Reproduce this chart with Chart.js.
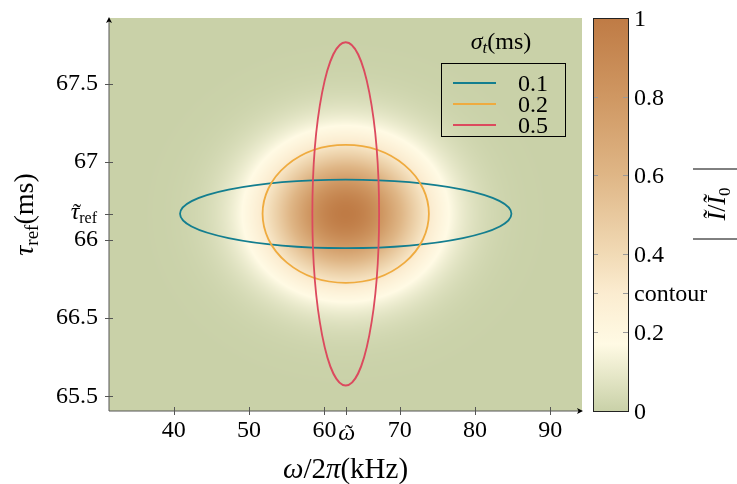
<!DOCTYPE html>
<html>
<head>
<meta charset="utf-8">
<script src="https://cdn.jsdelivr.net/npm/chart.js@4/dist/chart.umd.min.js"></script>
<style>
html, body { margin: 0; padding: 0; background: #fff; }
</style>
</head>
<body>
<canvas id="chart" width="737" height="484"></canvas>
<script>
// axes (x: kHz, y: ms)
const xRange = [31.4, 94.2];
const yRange = [65.406, 67.92];
const xTicks = [40, 50, 60, 70, 80, 90];
const yTicks = [65.5, 66, 66.5, 67, 67.5];
const yTickLabels = ['65.5', '66.5', '66', '67', '67.5'];
const omegaRef = 62.83;
const tauRef = 66.667;

// contour ellipses, one per sigma_t
const sigmaLabels = ['0.1', '0.2', '0.5'];
const halfWidths = [22.0, 11.04, 4.43];
const halfHeights = [0.219, 0.441, 1.098];
const lineColors = ['#137e8f', '#efab3f', '#dc4a5e'];

// intensity blob
const blobCenter = [62.83, 66.667];
const blobSigma = [7.3, 0.30];

// colour bar
const cbTicks = [0, 0.2, 0.4, 0.6, 0.8, 1];
const cbTickLabels = ['0', '0.2', '0.4', '0.6', '0.8', '1'];
const contourLevel = 0.3;
const cmapStops = [0, 0.17, 0.3, 0.4, 0.6, 0.8, 1];
const cmapColors = ['#c9d1a8', '#fffae4', '#fbecd0', '#f1dab5', '#dfb686', '#cf9762', '#bf7b45'];

const FONT = '"Liberation Serif", serif';
const FS = 24;

function hex(c) {
    return [1, 3, 5].map(i => parseInt(c.substr(i, 2), 16));
}
const cmapRgb = cmapColors.map(hex);

function cmap(v) {
    v = Math.max(0, Math.min(1, v));
    for (let i = 1; i < cmapStops.length; i++) {
        if (v <= cmapStops[i]) {
            const t = (v - cmapStops[i - 1]) / (cmapStops[i] - cmapStops[i - 1]);
            const a = cmapRgb[i - 1], b = cmapRgb[i];
            return [0, 1, 2].map(k => a[k] + (b[k] - a[k]) * t);
        }
    }
    return cmapRgb[cmapRgb.length - 1];
}

// draw a row of text pieces: [text, size, italic, dy, tilde]
function rich(ctx, parts, x, y, align) {
    const f = p => (p[2] ? 'italic ' : '') + p[1] + 'px ' + FONT;
    let w = 0;
    parts.forEach(p => { ctx.font = f(p); w += ctx.measureText(p[0]).width; });
    let cx = align === 'center' ? x - w / 2 : (align === 'right' ? x - w : x);
    ctx.textAlign = 'left';
    ctx.textBaseline = 'alphabetic';
    parts.forEach(p => {
        ctx.font = f(p);
        const pw = ctx.measureText(p[0]).width;
        ctx.fillText(p[0], cx, y + (p[3] || 0));
        if (p[4]) {
            // tilde accent over the glyph
            ctx.font = p[1] + 'px ' + FONT;
            ctx.textAlign = 'center';
            ctx.fillText('˜', cx + pw / 2 + 2, y + 1);
            ctx.textAlign = 'left';
        }
        cx += pw;
    });
}

function arrow(ctx, x, y, dir) {
    ctx.save();
    ctx.translate(x, y);
    ctx.rotate(dir);
    ctx.beginPath();
    ctx.moveTo(0, 0);
    ctx.lineTo(-6, -3);
    ctx.lineTo(-4.5, 0);
    ctx.lineTo(-6, 3);
    ctx.closePath();
    ctx.fillStyle = '#000';
    ctx.fill();
    ctx.restore();
}

const heatmap = {
    id: 'heatmap',
    beforeDatasetsDraw(chart) {
        const ctx = chart.ctx;
        const xs = chart.scales.x, ys = chart.scales.y;
        const { left, top, right, bottom } = chart.chartArea;
        const w = Math.round(right - left), h = Math.round(bottom - top);
        const off = document.createElement('canvas');
        off.width = w; off.height = h;
        const octx = off.getContext('2d');
        const img = octx.createImageData(w, h);
        for (let j = 0; j < h; j++) {
            const dy = (ys.getValueForPixel(top + j + 0.5) - blobCenter[1]) / blobSigma[1];
            for (let i = 0; i < w; i++) {
                const dx = (xs.getValueForPixel(left + i + 0.5) - blobCenter[0]) / blobSigma[0];
                const c = cmap(Math.exp(-(dx * dx + dy * dy) / 2));
                const k = (j * w + i) * 4;
                img.data[k] = c[0]; img.data[k + 1] = c[1]; img.data[k + 2] = c[2]; img.data[k + 3] = 255;
            }
        }
        octx.putImageData(img, 0, 0);
        ctx.drawImage(off, left, top);
    },
    afterDatasetsDraw(chart) {
        const ctx = chart.ctx;
        const xs = chart.scales.x, ys = chart.scales.y;
        const { left, top, right, bottom } = chart.chartArea;

        // ellipses
        const cx = xs.getPixelForValue(omegaRef), cy = ys.getPixelForValue(tauRef);
        sigmaLabels.forEach((s, i) => {
            const rx = xs.getPixelForValue(omegaRef + halfWidths[i]) - cx;
            const ry = cy - ys.getPixelForValue(tauRef + halfHeights[i]);
            ctx.beginPath();
            ctx.ellipse(cx, cy, rx, ry, 0, 0, Math.PI * 2);
            ctx.strokeStyle = lineColors[i];
            ctx.lineWidth = 1.8;
            ctx.stroke();
        });

        // axis lines + tick marks
        ctx.strokeStyle = '#555';
        ctx.lineWidth = 1;
        ctx.beginPath();
        ctx.moveTo(left, bottom); ctx.lineTo(right - 1, bottom);
        ctx.moveTo(left, bottom); ctx.lineTo(left, top + 1);
        xTicks.concat([omegaRef]).forEach(v => {
            const p = Math.round(xs.getPixelForValue(v)) + 0.5;
            ctx.moveTo(p, bottom - 4); ctx.lineTo(p, bottom + 4);
        });
        yTicks.concat([tauRef]).forEach(v => {
            const p = Math.round(ys.getPixelForValue(v)) + 0.5;
            ctx.moveTo(left - 4, p); ctx.lineTo(left + 4, p);
        });
        ctx.stroke();
        arrow(ctx, right + 1, bottom, 0);
        arrow(ctx, left, top - 1, -Math.PI / 2);

        ctx.fillStyle = '#000';
        // reference tick labels
        rich(ctx, [['τ', FS, true, 0, true], ['ref', 16, false, 4]], 97, cy + 5, 'right');
        rich(ctx, [['ω', FS, true, 0, true]], cx + 1, bottom + 29, 'center');

        // axis titles
        rich(ctx, [['ω', 29, true], ['/2', 29, false], ['π', 29, true], ['(kHz)', 29, false]],
            (left + right) / 2, 478, 'center');
        ctx.save();
        ctx.translate(33, (top + bottom) / 2);
        ctx.rotate(-Math.PI / 2);
        rich(ctx, [['τ', 28, true], ['ref', 19, false, 5], ['(ms)', 28, false]], 0, 0, 'center');
        ctx.restore();

        // legend
        rich(ctx, [['σ', FS, true], ['t', 17, true, 4], ['(ms)', FS, false]], 501, 49, 'center');
        ctx.strokeStyle = '#000';
        ctx.lineWidth = 1;
        ctx.strokeRect(441.5, 63.5, 124, 73);
        sigmaLabels.forEach((s, i) => {
            const y = 83 + i * 21;
            ctx.beginPath();
            ctx.moveTo(453, y); ctx.lineTo(496, y);
            ctx.strokeStyle = lineColors[i];
            ctx.lineWidth = 2;
            ctx.stroke();
            rich(ctx, [[s, FS, false]], 518, y + 8, 'left');
        });

        // colour bar
        const cbL = 593, cbR = 628;
        const cbY = v => bottom - v * (bottom - top);
        const g = ctx.createLinearGradient(0, bottom, 0, top);
        cmapStops.forEach((s, i) => g.addColorStop(s, cmapColors[i]));
        ctx.fillStyle = g;
        ctx.fillRect(cbL, top, cbR - cbL, bottom - top);
        ctx.strokeStyle = '#999';
        ctx.lineWidth = 1;
        ctx.beginPath();
        cbTicks.concat([contourLevel]).forEach(v => {
            if (v === 0 || v === 1) return;
            const p = Math.round(cbY(v)) + 0.5;
            ctx.moveTo(cbL, p); ctx.lineTo(cbL + 5, p);
            ctx.moveTo(cbR - 5, p); ctx.lineTo(cbR, p);
        });
        ctx.stroke();
        ctx.strokeStyle = '#222';
        ctx.strokeRect(cbL + 0.5, top + 0.5, cbR - cbL, bottom - top);
        ctx.fillStyle = '#000';
        cbTicks.forEach((v, i) => rich(ctx, [[cbTickLabels[i], FS, false]], 634, cbY(v) + 8, 'left'));
        rich(ctx, [['contour', FS, false]], 634, cbY(contourLevel) + 8, 'left');

        // colour bar title |I~/I~0|
        ctx.save();
        ctx.translate(717, 204);
        ctx.rotate(-Math.PI / 2);
        rich(ctx, [['Ĩ', 26, true], ['/', 26, false], ['Ĩ', 26, true], ['0', 17, false, 5]], 0, 8, 'center');
        ctx.strokeStyle = '#000';
        ctx.lineWidth = 1;
        ctx.beginPath();
        ctx.moveTo(-35, -24); ctx.lineTo(-35, 20);
        ctx.moveTo(35, -24); ctx.lineTo(35, 20);
        ctx.stroke();
        ctx.restore();
    }
};

new Chart(document.getElementById('chart'), {
    type: 'scatter',
    data: {
        datasets: sigmaLabels.map((s, i) => ({
            label: s,
            data: [{ x: omegaRef, y: tauRef }],
            pointRadius: 0,
            borderColor: lineColors[i]
        }))
    },
    options: {
        responsive: false,
        animation: false,
        devicePixelRatio: 1,
        layout: { padding: { top: 18, right: 155, left: 0, bottom: 0 } },
        plugins: { legend: { display: false }, tooltip: { enabled: false } },
        scales: {
            x: {
                type: 'linear',
                min: xRange[0],
                max: xRange[1],
                afterBuildTicks: s => { s.ticks = xTicks.map(v => ({ value: v })); },
                afterFit: s => { s.height = 73; s.paddingLeft = 0; s.paddingRight = 0; },
                grid: { display: false },
                border: { display: false },
                ticks: {
                    autoSkip: false,
                    maxRotation: 0,
                    padding: -3,
                    color: '#000',
                    font: { family: FONT, size: FS },
                    callback: v => String(v)
                }
            },
            y: {
                type: 'linear',
                min: yRange[0],
                max: yRange[1],
                afterBuildTicks: s => { s.ticks = yTicks.map(v => ({ value: v })); },
                afterFit: s => { s.width = 109; s.paddingTop = 0; s.paddingBottom = 0; },
                grid: { display: false },
                border: { display: false },
                ticks: {
                    autoSkip: false,
                    padding: 3,
                    color: '#000',
                    font: { family: FONT, size: FS },
                    callback: v => yTickLabels[yTicks.indexOf(v)]
                }
            }
        }
    },
    plugins: [heatmap]
});
</script>
</body>
</html>
